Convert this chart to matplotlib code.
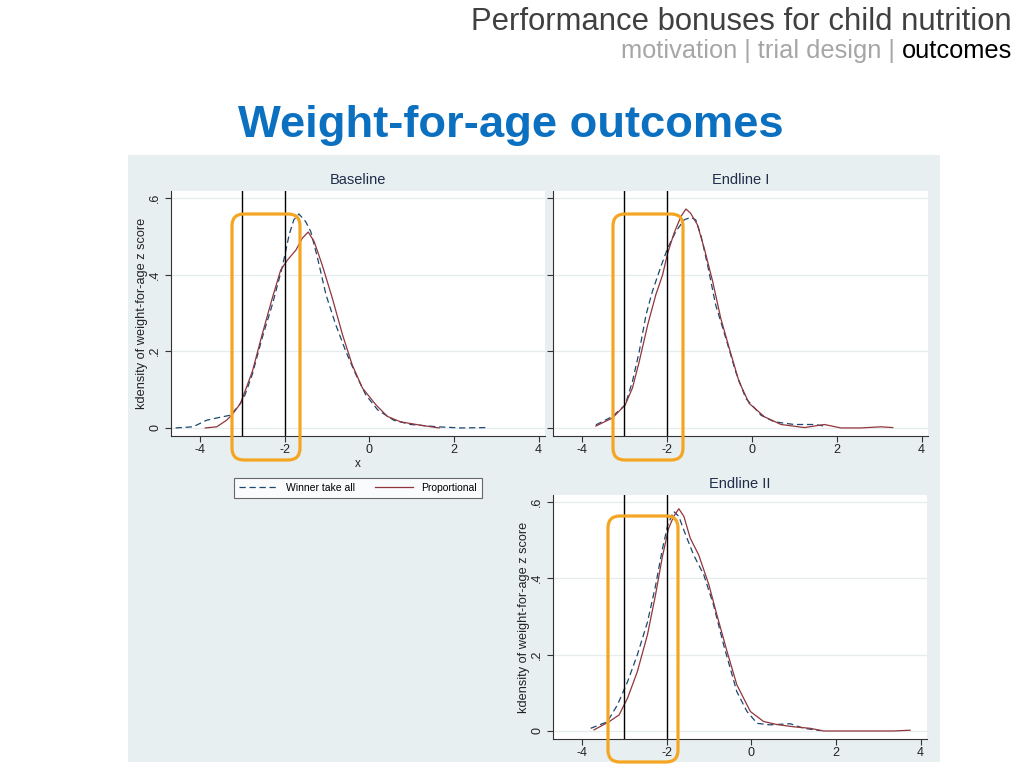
import matplotlib
matplotlib.use('Agg')
import matplotlib.pyplot as plt
from matplotlib.patches import Rectangle, FancyBboxPatch

plt.rcParams['font.family'] = ['Liberation Sans', 'DejaVu Sans']
plt.rcParams['axes.unicode_minus'] = False

# ===== DATA =====
base_wta_x = [-4.57, -4.16, -3.84, -3.6, -3.29, -3.1, -2.96, -2.76, -2.53, -2.29, -2.05, -1.89, -1.78, -1.66,
              -1.50, -1.38, -1.22, -1.02, -0.79, -0.55, -0.31, -0.08, 0.2, 0.58, 0.98, 1.61, 2.17, 2.76]
base_wta_y = [0.0, 0.003, 0.02, 0.026, 0.033, 0.055, 0.078, 0.14, 0.234, 0.321, 0.421, 0.504, 0.543, 0.558,
              0.538, 0.512, 0.443, 0.347, 0.269, 0.199, 0.138, 0.086, 0.047, 0.02, 0.009, 0.003, 0.0, 0.001]
base_prop_x = [-3.87, -3.6, -3.37, -3.24, -3.04, -2.76, -2.53, -2.29, -2.09, -1.93, -1.73, -1.58, -1.44,
               -1.30, -1.11, -0.87, -0.63, -0.40, -0.16, 0.16, 0.43, 0.74, 1.22, 1.65]
base_prop_y = [0.0, 0.003, 0.02, 0.034, 0.064, 0.147, 0.243, 0.338, 0.412, 0.438, 0.464, 0.495, 0.511,
               0.486, 0.425, 0.338, 0.243, 0.164, 0.104, 0.06, 0.03, 0.016, 0.007, 0.0]

end1_wta_x = [-3.67, -3.28, -2.98, -2.81, -2.65, -2.49, -2.34, -2.14, -1.98, -1.79, -1.59, -1.44, -1.32,
              -1.2, -1.04, -0.85, -0.61, -0.38, -0.14, 0.22, 0.53, 1.0, 1.47, 1.71]
end1_wta_y = [0.008, 0.03, 0.06, 0.121, 0.199, 0.295, 0.356, 0.421, 0.469, 0.512, 0.543, 0.549, 0.543,
              0.504, 0.425, 0.321, 0.234, 0.147, 0.077, 0.033, 0.016, 0.009, 0.009, 0.005]
end1_prop_x = [-3.67, -3.28, -2.98, -2.81, -2.65, -2.45, -2.26, -2.1, -1.98, -1.83, -1.67, -1.55, -1.44,
               -1.28, -1.12, -0.92, -0.73, -0.53, -0.3, -0.06, 0.3, 0.69, 1.24, 1.71, 2.1, 2.57, 3.04, 3.32]
end1_prop_y = [0.005, 0.026, 0.06, 0.104, 0.173, 0.269, 0.347, 0.399, 0.456, 0.508, 0.551, 0.571, 0.56,
               0.53, 0.469, 0.382, 0.286, 0.208, 0.121, 0.064, 0.029, 0.009, 0.001, 0.009, 0.0, 0.0, 0.003, 0.001]

end2_wta_x = [-3.79, -3.40, -3.16, -2.92, -2.69, -2.45, -2.26, -2.10, -1.97, -1.83, -1.71, -1.55, -1.36,
              -1.12, -0.89, -0.65, -0.34, -0.10, 0.14, 0.45, 0.92, 1.24, 1.63]
end2_wta_y = [0.007, 0.024, 0.068, 0.129, 0.199, 0.285, 0.38, 0.475, 0.540, 0.575, 0.562, 0.514, 0.461,
              0.409, 0.33, 0.225, 0.103, 0.051, 0.02, 0.016, 0.019, 0.007, 0.001]
end2_prop_x = [-3.71, -3.36, -3.12, -2.92, -2.69, -2.45, -2.26, -2.10, -1.95, -1.83, -1.71, -1.59, -1.44,
               -1.24, -1.0, -0.81, -0.57, -0.34, -0.02, 0.29, 0.6, 1.0, 1.39, 1.71, 2.57, 3.36, 3.75]
end2_prop_y = [0.003, 0.024, 0.042, 0.086, 0.155, 0.252, 0.356, 0.455, 0.531, 0.562, 0.582, 0.562, 0.505,
               0.461, 0.383, 0.304, 0.208, 0.121, 0.051, 0.025, 0.017, 0.011, 0.007, 0.0, 0.0, 0.0, 0.002]

cutoffs = [-3, -2]
x_ticks = [-4, -2, 0, 2, 4]
y_ticks = [0, 0.2, 0.4, 0.6]
y_ticklabels = ['0', '.2', '.4', '.6']
panel_titles = ['Baseline', 'Endline I', 'Endline II']
series_names = ['Winner take all', 'Proportional']
# ===== DATA =====

W, H = 1024, 768
fig = plt.figure(figsize=(W / 100, H / 100), dpi=100)
fig.patch.set_facecolor('white')

WTA_COLOR = '#1a476f'
PROP_COLOR = '#90353b'
ORANGE = '#f4a522'
BG = '#e8eff1'


def px_rect(x0, y0, x1, y1):
    # pixel box (top-left origin) -> figure fraction [l, b, w, h]
    return [x0 / W, 1 - y1 / H, (x1 - x0) / W, (y1 - y0) / H]


# light graph-region panel
fig.patches.append(Rectangle((128 / W, 1 - 762 / H), (940 - 128) / W, (762 - 155) / H,
                             transform=fig.transFigure, facecolor=BG, edgecolor='none', zorder=-5))


def make_panel(rect, title, wta, prop, ylabels=True, xlabel=None):
    ax = fig.add_axes(rect)
    ax.set_facecolor('white')
    for y in y_ticks:
        ax.axhline(y, color='#e6ebee', lw=0.9, zorder=0)
    ax.plot(wta[0], wta[1], color=WTA_COLOR, lw=0.9, ls=(0, (5, 3)), label=series_names[0],
            zorder=3, solid_joinstyle='round')
    ax.plot(prop[0], prop[1], color=PROP_COLOR, lw=0.9, label=series_names[1], zorder=3,
            solid_joinstyle='round')
    for c in cutoffs:
        ax.axvline(c, color='black', lw=1.0, zorder=4)
    ax.set_xlim(-4.68, 4.15)
    ax.set_ylim(-0.021, 0.618)
    ax.set_xticks(x_ticks)
    ax.set_yticks(y_ticks)
    if ylabels:
        ax.set_yticklabels(y_ticklabels, rotation=90, va='center')
        ax.set_ylabel('kdensity of weight-for-age z score', fontsize=9.2, color='#222222', labelpad=1)
    else:
        ax.set_yticklabels([])
    if xlabel:
        ax.set_xlabel(xlabel, fontsize=8.5, color='#222222', labelpad=1)
    for s in ['top', 'right']:
        ax.spines[s].set_visible(False)
    for s in ['left', 'bottom']:
        ax.spines[s].set_color('#333333')
        ax.spines[s].set_linewidth(0.8)
    ax.tick_params(labelsize=9, length=4, width=0.8, color='#333333', labelcolor='#222222', pad=2)
    ax.tick_params(axis='y', pad=3)
    ax.set_title(title, fontsize=10.5, color='#1e2d4a', pad=5)
    return ax


ax1 = make_panel(px_rect(171, 191, 545, 436), panel_titles[0], (base_wta_x, base_wta_y),
                 (base_prop_x, base_prop_y), xlabel='x')
ax2 = make_panel(px_rect(553, 191, 928, 436), panel_titles[1], (end1_wta_x, end1_wta_y),
                 (end1_prop_x, end1_prop_y), ylabels=False)
ax3 = make_panel(px_rect(553, 495, 927, 739), panel_titles[2], (end2_wta_x, end2_wta_y),
                 (end2_prop_x, end2_prop_y))

handles, labels = ax1.get_legend_handles_labels()
leg = fig.legend(handles, labels, loc='center', ncol=2,
                 bbox_to_anchor=(358 / W, 1 - 488 / H),
                 fontsize=7.5, frameon=True, fancybox=False, edgecolor='#444444',
                 handlelength=3.7, handletextpad=0.8, columnspacing=1.9, borderpad=0.45,
                 borderaxespad=0)
leg.get_frame().set_linewidth(0.8)

# orange highlight boxes (pixel coords -> inches)
for (x0, y0, x1, y1) in [(232, 214, 300, 460), (613, 214, 683, 460), (608, 516, 678, 762)]:
    box = FancyBboxPatch((x0 / 100, (H - y1) / 100), (x1 - x0) / 100, (y1 - y0) / 100,
                         boxstyle='round,pad=0,rounding_size=0.12', transform=fig.dpi_scale_trans,
                         facecolor='none', edgecolor=ORANGE, lw=2.3, zorder=10)
    fig.patches.append(box)

# slide header
fig.text(1012 / W, 1 - 22 / H, 'Performance bonuses for child nutrition', ha='right', va='center',
         fontsize=22.3, color='#404040')
t_out = fig.text(1012 / W, 1 - 51 / H, 'outcomes', ha='right', va='center', fontsize=18.3, color='black')
plt.annotate('motivation | trial design | ', xy=(0, 0), xycoords=t_out, ha='right', va='bottom',
             fontsize=18.3, color='#a6a6a6', annotation_clip=False)

fig.text(511 / W, 1 - 125 / H, 'Weight-for-age outcomes', ha='center', va='center',
         fontsize=32.7, fontweight='bold', color='#0b70c0')

fig.savefig('out.png', dpi=100)
